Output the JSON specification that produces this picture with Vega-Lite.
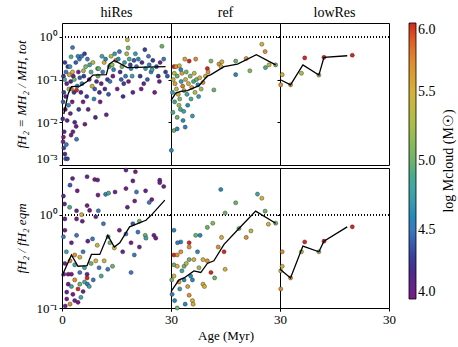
{
"$schema": "https://vega.github.io/schema/vega-lite/v6.json",
"padding": {"left": 14, "top": 5, "right": 5, "bottom": 5},
"spacing": 0,
"data": {"name": "pts"},
"resolve": {"scale": {"color": "shared"}, "legend": {"color": "shared"}},
"config": {
  "font": "Liberation Serif",
  "view": {"stroke": "black", "strokeWidth": 1},
  "title": {"font": "Liberation Serif", "fontSize": 14, "fontWeight": "normal", "color": "black", "offset": 3},
  "axis": {"labelFont": "Liberation Serif", "titleFont": "Liberation Serif", "labelFontSize": 13, "titleFontSize": 13, "titleFontWeight": "normal", "labelColor": "black", "titleColor": "black", "domain": false, "tickColor": "black", "grid": false, "tickSize": 3},
  "axisY": {"minExtent": 30, "maxExtent": 30},
  "legend": {"labelFont": "Liberation Serif", "titleFont": "Liberation Serif"},
  "circle": {"size": 17, "opacity": 1, "stroke": "#222", "strokeWidth": 0.4, "clip": true},
  "line": {"color": "black", "strokeWidth": 1.3, "clip": true},
  "rule": {"strokeDash": [1, 2], "color": "black", "strokeWidth": 1}
},
"datasets": {
"pts": [
{"p":"hiRes","q":"a","t":0.3,"v":0.0035,"m":4.1},{"p":"hiRes","q":"a","t":0.5,"v":0.0025,"m":4.3},{"p":"hiRes","q":"a","t":0.8,"v":0.0018,"m":4.2},{"p":"hiRes","q":"a","t":1.0,"v":0.0014,"m":4.4},{"p":"hiRes","q":"a","t":0.4,"v":0.0045,"m":4.0},{"p":"hiRes","q":"a","t":1.2,"v":0.003,"m":4.5},{"p":"hiRes","q":"a","t":0.6,"v":0.006,"m":4.1},{"p":"hiRes","q":"a","t":1.5,"v":0.0014,"m":4.3},{"p":"hiRes","q":"a","t":0.2,"v":0.012,"m":4.2},{"p":"hiRes","q":"a","t":0.9,"v":0.02,"m":4.0},{"p":"hiRes","q":"a","t":1.8,"v":0.025,"m":4.6},{"p":"hiRes","q":"a","t":0.5,"v":0.05,"m":4.3},{"p":"hiRes","q":"a","t":1.3,"v":0.08,"m":4.1},{"p":"hiRes","q":"a","t":0.4,"v":0.12,"m":4.2},{"p":"hiRes","q":"a","t":1.1,"v":0.15,"m":4.5},{"p":"hiRes","q":"a","t":1.6,"v":0.2,"m":4.3},{"p":"hiRes","q":"a","t":0.7,"v":0.1,"m":4.8},{"p":"hiRes","q":"a","t":1.9,"v":0.06,"m":5.2},{"p":"hiRes","q":"a","t":1.0,"v":0.04,"m":4.2},{"p":"hiRes","q":"a","t":0.3,"v":0.03,"m":4.4},{"p":"hiRes","q":"a","t":1.4,"v":0.011,"m":4.1},{"p":"hiRes","q":"a","t":2.0,"v":0.13,"m":5.6},{"p":"hiRes","q":"a","t":0.8,"v":0.25,"m":4.3},
{"p":"hiRes","q":"a","t":2.5,"v":0.005,"m":4.0},{"p":"hiRes","q":"a","t":3.0,"v":0.006,"m":4.1},{"p":"hiRes","q":"a","t":3.5,"v":0.01,"m":4.2},{"p":"hiRes","q":"a","t":4.0,"v":0.004,"m":4.5},{"p":"hiRes","q":"a","t":2.8,"v":0.03,"m":4.0},{"p":"hiRes","q":"a","t":3.3,"v":0.05,"m":4.3},{"p":"hiRes","q":"a","t":4.2,"v":0.07,"m":4.6},{"p":"hiRes","q":"a","t":2.4,"v":0.09,"m":4.2},{"p":"hiRes","q":"a","t":3.1,"v":0.12,"m":4.1},{"p":"hiRes","q":"a","t":4.5,"v":0.15,"m":4.0},{"p":"hiRes","q":"a","t":2.2,"v":0.2,"m":4.7},{"p":"hiRes","q":"a","t":3.8,"v":0.25,"m":4.4},{"p":"hiRes","q":"a","t":4.8,"v":0.3,"m":4.5},{"p":"hiRes","q":"a","t":2.6,"v":0.06,"m":5.8},{"p":"hiRes","q":"a","t":4.0,"v":0.056,"m":6.0},{"p":"hiRes","q":"a","t":4.6,"v":0.02,"m":4.3},{"p":"hiRes","q":"a","t":2.3,"v":0.016,"m":4.1},{"p":"hiRes","q":"a","t":3.9,"v":0.008,"m":4.0},{"p":"hiRes","q":"a","t":4.4,"v":0.35,"m":4.6},{"p":"hiRes","q":"a","t":2.9,"v":0.15,"m":5.5},{"p":"hiRes","q":"a","t":3.4,"v":0.1,"m":5.0},{"p":"hiRes","q":"a","t":4.9,"v":0.11,"m":4.4},{"p":"hiRes","q":"a","t":2.9,"v":0.56,"m":4.5},{"p":"hiRes","q":"a","t":2.5,"v":0.34,"m":4.9},
{"p":"hiRes","q":"a","t":5.2,"v":0.05,"m":4.2},{"p":"hiRes","q":"a","t":5.5,"v":0.08,"m":4.6},{"p":"hiRes","q":"a","t":6.0,"v":0.12,"m":4.3},{"p":"hiRes","q":"a","t":6.5,"v":0.2,"m":5.1},{"p":"hiRes","q":"a","t":7.0,"v":0.3,"m":4.5},{"p":"hiRes","q":"a","t":7.5,"v":0.1,"m":4.1},{"p":"hiRes","q":"a","t":8.0,"v":0.15,"m":4.9},{"p":"hiRes","q":"a","t":8.5,"v":0.25,"m":5.3},{"p":"hiRes","q":"a","t":9.0,"v":0.06,"m":4.4},{"p":"hiRes","q":"a","t":9.5,"v":0.09,"m":4.2},{"p":"hiRes","q":"a","t":5.8,"v":0.03,"m":4.0},{"p":"hiRes","q":"a","t":6.8,"v":0.04,"m":4.3},{"p":"hiRes","q":"a","t":7.2,"v":0.02,"m":4.1},{"p":"hiRes","q":"a","t":8.8,"v":0.035,"m":4.6},{"p":"hiRes","q":"a","t":9.8,"v":0.18,"m":4.7},{"p":"hiRes","q":"a","t":5.4,"v":0.35,"m":4.5},{"p":"hiRes","q":"a","t":6.2,"v":0.4,"m":4.3},{"p":"hiRes","q":"a","t":9.2,"v":0.013,"m":4.2},{"p":"hiRes","q":"a","t":6.3,"v":0.009,"m":4.0},{"p":"hiRes","q":"a","t":8.3,"v":0.07,"m":5.4},{"p":"hiRes","q":"a","t":9.9,"v":0.12,"m":5.0},{"p":"hiRes","q":"a","t":5.9,"v":0.16,"m":5.2},{"p":"hiRes","q":"a","t":7.6,"v":0.22,"m":4.8},
{"p":"hiRes","q":"a","t":10.3,"v":0.05,"m":4.2},{"p":"hiRes","q":"a","t":10.8,"v":0.08,"m":4.1},{"p":"hiRes","q":"a","t":11.2,"v":0.15,"m":4.5},{"p":"hiRes","q":"a","t":11.6,"v":0.25,"m":5.5},{"p":"hiRes","q":"a","t":12.0,"v":0.3,"m":4.6},{"p":"hiRes","q":"a","t":12.5,"v":0.1,"m":4.3},{"p":"hiRes","q":"a","t":13.0,"v":0.2,"m":4.9},{"p":"hiRes","q":"a","t":13.5,"v":0.35,"m":5.3},{"p":"hiRes","q":"a","t":14.0,"v":0.12,"m":4.0},{"p":"hiRes","q":"a","t":14.5,"v":0.4,"m":4.7},{"p":"hiRes","q":"a","t":10.5,"v":0.03,"m":4.0},{"p":"hiRes","q":"a","t":11.8,"v":0.06,"m":4.2},{"p":"hiRes","q":"a","t":12.8,"v":0.045,"m":4.4},{"p":"hiRes","q":"a","t":13.8,"v":0.22,"m":5.2},{"p":"hiRes","q":"a","t":14.8,"v":0.28,"m":5.8},{"p":"hiRes","q":"a","t":10.1,"v":0.18,"m":5.0},{"p":"hiRes","q":"a","t":11.0,"v":0.35,"m":4.8},{"p":"hiRes","q":"a","t":12.2,"v":0.015,"m":4.1},{"p":"hiRes","q":"a","t":13.2,"v":0.09,"m":4.5},{"p":"hiRes","q":"a","t":14.2,"v":0.17,"m":4.6},
{"p":"hiRes","q":"a","t":15.5,"v":0.3,"m":4.6},{"p":"hiRes","q":"a","t":16.0,"v":0.15,"m":4.2},{"p":"hiRes","q":"a","t":16.5,"v":0.2,"m":5.0},{"p":"hiRes","q":"a","t":17.0,"v":0.08,"m":4.3},{"p":"hiRes","q":"a","t":17.5,"v":0.12,"m":4.5},{"p":"hiRes","q":"a","t":18.0,"v":0.85,"m":5.4},{"p":"hiRes","q":"a","t":18.2,"v":0.55,"m":5.1},{"p":"hiRes","q":"a","t":18.5,"v":0.3,"m":4.9},{"p":"hiRes","q":"a","t":19.0,"v":0.18,"m":4.6},{"p":"hiRes","q":"a","t":19.5,"v":0.05,"m":4.1},{"p":"hiRes","q":"a","t":15.2,"v":0.06,"m":4.0},{"p":"hiRes","q":"a","t":16.3,"v":0.1,"m":4.4},{"p":"hiRes","q":"a","t":17.2,"v":0.25,"m":4.7},{"p":"hiRes","q":"a","t":17.8,"v":0.4,"m":5.2},{"p":"hiRes","q":"a","t":18.8,"v":0.22,"m":4.3},{"p":"hiRes","q":"a","t":19.3,"v":0.12,"m":4.8},{"p":"hiRes","q":"a","t":16.8,"v":0.04,"m":4.2},{"p":"hiRes","q":"a","t":15.8,"v":0.45,"m":4.5},{"p":"hiRes","q":"a","t":19.8,"v":0.28,"m":4.4},{"p":"hiRes","q":"a","t":18.3,"v":0.09,"m":4.0},
{"p":"hiRes","q":"a","t":20.5,"v":0.2,"m":4.5},{"p":"hiRes","q":"a","t":21.0,"v":0.3,"m":4.6},{"p":"hiRes","q":"a","t":21.5,"v":0.12,"m":4.3},{"p":"hiRes","q":"a","t":22.0,"v":0.25,"m":4.2},{"p":"hiRes","q":"a","t":22.5,"v":0.08,"m":4.1},{"p":"hiRes","q":"a","t":23.0,"v":0.18,"m":4.7},{"p":"hiRes","q":"a","t":23.5,"v":0.1,"m":4.4},{"p":"hiRes","q":"a","t":24.0,"v":0.22,"m":4.6},{"p":"hiRes","q":"a","t":24.5,"v":0.15,"m":4.5},{"p":"hiRes","q":"a","t":25.0,"v":0.28,"m":4.3},{"p":"hiRes","q":"a","t":25.5,"v":0.05,"m":4.0},{"p":"hiRes","q":"a","t":26.0,"v":0.2,"m":4.4},{"p":"hiRes","q":"a","t":26.5,"v":0.12,"m":4.2},{"p":"hiRes","q":"a","t":27.0,"v":0.25,"m":4.1},{"p":"hiRes","q":"a","t":27.5,"v":0.6,"m":5.0},{"p":"hiRes","q":"a","t":28.0,"v":0.3,"m":4.5},{"p":"hiRes","q":"a","t":28.5,"v":0.15,"m":4.3},{"p":"hiRes","q":"a","t":21.8,"v":0.06,"m":4.0},{"p":"hiRes","q":"a","t":23.8,"v":0.35,"m":4.5},{"p":"hiRes","q":"a","t":26.8,"v":0.09,"m":4.1},{"p":"hiRes","q":"a","t":20.2,"v":0.4,"m":4.7},{"p":"hiRes","q":"a","t":22.8,"v":0.5,"m":4.3},{"p":"hiRes","q":"a","t":24.8,"v":0.17,"m":4.8},{"p":"hiRes","q":"a","t":29.0,"v":0.12,"m":4.4},

{"p":"ref","q":"a","t":0.1,"v":0.0022,"m":4.6},{"p":"ref","q":"a","t":0.8,"v":0.2,"m":6.0},{"p":"ref","q":"a","t":1.4,"v":0.2,"m":5.7},{"p":"ref","q":"a","t":2.3,"v":0.21,"m":5.5},{"p":"ref","q":"a","t":2.7,"v":0.17,"m":4.6},{"p":"ref","q":"a","t":5.0,"v":0.27,"m":6.0},{"p":"ref","q":"a","t":6.8,"v":0.3,"m":5.7},{"p":"ref","q":"a","t":1.7,"v":0.12,"m":5.0},{"p":"ref","q":"a","t":0.8,"v":0.0064,"m":5.0},{"p":"ref","q":"a","t":1.7,"v":0.007,"m":4.6},{"p":"ref","q":"a","t":3.9,"v":0.0077,"m":4.5},{"p":"ref","q":"a","t":3.3,"v":0.011,"m":4.6},{"p":"ref","q":"a","t":5.9,"v":0.014,"m":4.7},{"p":"ref","q":"a","t":3.5,"v":0.018,"m":4.8},{"p":"ref","q":"a","t":1.7,"v":0.013,"m":5.0},{"p":"ref","q":"a","t":0.5,"v":0.017,"m":4.9},
{"p":"ref","q":"a","t":0.6,"v":0.1,"m":5.4},{"p":"ref","q":"a","t":1.1,"v":0.08,"m":5.6},{"p":"ref","q":"a","t":1.5,"v":0.06,"m":5.3},{"p":"ref","q":"a","t":2.0,"v":0.045,"m":5.5},{"p":"ref","q":"a","t":2.4,"v":0.035,"m":5.1},{"p":"ref","q":"a","t":2.8,"v":0.09,"m":4.7},{"p":"ref","q":"a","t":3.2,"v":0.07,"m":5.8},{"p":"ref","q":"a","t":3.6,"v":0.055,"m":5.2},{"p":"ref","q":"a","t":4.0,"v":0.1,"m":5.4},{"p":"ref","q":"a","t":4.4,"v":0.045,"m":4.8},{"p":"ref","q":"a","t":4.8,"v":0.08,"m":5.5},{"p":"ref","q":"a","t":5.3,"v":0.12,"m":5.1},{"p":"ref","q":"a","t":5.7,"v":0.065,"m":5.6},{"p":"ref","q":"a","t":6.2,"v":0.09,"m":4.9},{"p":"ref","q":"a","t":6.6,"v":0.05,"m":5.3},{"p":"ref","q":"a","t":7.0,"v":0.1,"m":5.0},{"p":"ref","q":"a","t":7.4,"v":0.075,"m":4.6},{"p":"ref","q":"a","t":7.9,"v":0.11,"m":5.5},{"p":"ref","q":"a","t":8.3,"v":0.06,"m":5.2},{"p":"ref","q":"a","t":8.8,"v":0.085,"m":5.7},{"p":"ref","q":"a","t":1.0,"v":0.03,"m":4.8},{"p":"ref","q":"a","t":2.2,"v":0.025,"m":5.2},{"p":"ref","q":"a","t":3.0,"v":0.14,"m":5.6},{"p":"ref","q":"a","t":4.2,"v":0.15,"m":5.0},{"p":"ref","q":"a","t":0.4,"v":0.05,"m":4.7},{"p":"ref","q":"a","t":5.5,"v":0.035,"m":4.9},{"p":"ref","q":"a","t":0.9,"v":0.14,"m":5.3},{"p":"ref","q":"a","t":6.4,"v":0.14,"m":5.4},{"p":"ref","q":"a","t":7.6,"v":0.04,"m":4.7},{"p":"ref","q":"a","t":2.6,"v":0.02,"m":4.9},{"p":"ref","q":"a","t":4.6,"v":0.025,"m":4.6},{"p":"ref","q":"a","t":3.8,"v":0.3,"m":5.6},
{"p":"ref","q":"a","t":10.0,"v":0.18,"m":6.0},{"p":"ref","q":"a","t":10.2,"v":0.15,"m":5.7},{"p":"ref","q":"a","t":11.8,"v":0.057,"m":5.0},{"p":"ref","q":"a","t":11.0,"v":0.27,"m":5.1},{"p":"ref","q":"a","t":13.2,"v":0.23,"m":5.7},{"p":"ref","q":"a","t":14.0,"v":0.26,"m":5.5},{"p":"ref","q":"a","t":13.8,"v":0.2,"m":5.5},{"p":"ref","q":"a","t":9.5,"v":0.12,"m":5.4},{"p":"ref","q":"a","t":17.8,"v":0.27,"m":5.0},{"p":"ref","q":"a","t":17.8,"v":0.13,"m":4.6},{"p":"ref","q":"a","t":20.7,"v":0.31,"m":5.7},{"p":"ref","q":"a","t":21.7,"v":0.16,"m":5.1},{"p":"ref","q":"a","t":25.0,"v":0.67,"m":5.5},{"p":"ref","q":"a","t":25.9,"v":0.45,"m":5.7},{"p":"ref","q":"a","t":26.0,"v":0.19,"m":4.9},{"p":"ref","q":"a","t":27.0,"v":0.22,"m":5.4},{"p":"ref","q":"a","t":28.8,"v":0.22,"m":5.0},

{"p":"lowRes","q":"a","t":0.2,"v":0.075,"m":5.7},{"p":"lowRes","q":"a","t":0.6,"v":0.13,"m":5.5},{"p":"lowRes","q":"a","t":2.9,"v":0.075,"m":5.7},{"p":"lowRes","q":"a","t":5.9,"v":0.14,"m":5.3},{"p":"lowRes","q":"a","t":6.8,"v":0.32,"m":6.0},{"p":"lowRes","q":"a","t":10.7,"v":0.127,"m":5.2},{"p":"lowRes","q":"a","t":12.1,"v":0.33,"m":6.0},{"p":"lowRes","q":"a","t":19.9,"v":0.37,"m":6.0},

{"p":"hiRes","q":"b","t":2.2,"v":2.07,"m":4.4},{"p":"hiRes","q":"b","t":2.9,"v":2.44,"m":4.1},{"p":"hiRes","q":"b","t":6.9,"v":2.55,"m":4.1},{"p":"hiRes","q":"b","t":9.0,"v":2.38,"m":4.0},{"p":"hiRes","q":"b","t":9.8,"v":2.35,"m":4.1},{"p":"hiRes","q":"b","t":4.2,"v":1.8,"m":4.0},{"p":"hiRes","q":"b","t":0.4,"v":1.58,"m":4.1},{"p":"hiRes","q":"b","t":9.9,"v":1.62,"m":4.0},{"p":"hiRes","q":"b","t":12.0,"v":1.65,"m":4.5},{"p":"hiRes","q":"b","t":12.8,"v":1.7,"m":4.9},{"p":"hiRes","q":"b","t":14.6,"v":1.75,"m":4.1},{"p":"hiRes","q":"b","t":17.6,"v":1.9,"m":4.0},{"p":"hiRes","q":"b","t":17.6,"v":3.0,"m":4.1},{"p":"hiRes","q":"b","t":20.2,"v":2.88,"m":4.0},{"p":"hiRes","q":"b","t":19.5,"v":2.3,"m":4.1},{"p":"hiRes","q":"b","t":20.5,"v":1.75,"m":4.5},{"p":"hiRes","q":"b","t":23.0,"v":1.8,"m":4.1},{"p":"hiRes","q":"b","t":24.7,"v":1.45,"m":4.0},{"p":"hiRes","q":"b","t":26.9,"v":2.34,"m":4.1},{"p":"hiRes","q":"b","t":26.9,"v":2.2,"m":4.0},{"p":"hiRes","q":"b","t":28.0,"v":2.0,"m":4.1},{"p":"hiRes","q":"b","t":24.0,"v":1.35,"m":4.5},{"p":"hiRes","q":"b","t":7.6,"v":1.11,"m":4.0},{"p":"hiRes","q":"b","t":0.7,"v":1.3,"m":4.1},{"p":"hiRes","q":"b","t":2.1,"v":1.2,"m":4.9},{"p":"hiRes","q":"b","t":4.0,"v":1.1,"m":4.1},{"p":"hiRes","q":"b","t":6.9,"v":1.25,"m":4.0},{"p":"hiRes","q":"b","t":10.0,"v":1.1,"m":4.5},{"p":"hiRes","q":"b","t":18.0,"v":1.2,"m":4.1},{"p":"hiRes","q":"b","t":20.0,"v":1.4,"m":4.0},
{"p":"hiRes","q":"b","t":0.8,"v":0.9,"m":4.1},{"p":"hiRes","q":"b","t":4.0,"v":0.9,"m":4.0},{"p":"hiRes","q":"b","t":5.6,"v":0.85,"m":4.1},{"p":"hiRes","q":"b","t":5.4,"v":1.0,"m":5.5},{"p":"hiRes","q":"b","t":9.3,"v":0.95,"m":4.1},{"p":"hiRes","q":"b","t":11.4,"v":0.8,"m":4.5},{"p":"hiRes","q":"b","t":15.8,"v":0.68,"m":4.0},{"p":"hiRes","q":"b","t":17.6,"v":0.62,"m":4.5},{"p":"hiRes","q":"b","t":19.5,"v":0.8,"m":4.4},{"p":"hiRes","q":"b","t":21.3,"v":0.85,"m":5.0},{"p":"hiRes","q":"b","t":20.9,"v":0.65,"m":4.5},{"p":"hiRes","q":"b","t":22.9,"v":0.6,"m":5.0},{"p":"hiRes","q":"b","t":23.1,"v":0.56,"m":4.8},{"p":"hiRes","q":"b","t":25.3,"v":0.6,"m":4.1},{"p":"hiRes","q":"b","t":25.8,"v":0.56,"m":4.0},{"p":"hiRes","q":"b","t":21.3,"v":0.45,"m":4.1},{"p":"hiRes","q":"b","t":19.9,"v":0.37,"m":4.5},{"p":"hiRes","q":"b","t":19.0,"v":0.5,"m":4.0},{"p":"hiRes","q":"b","t":16.7,"v":0.4,"m":4.1},{"p":"hiRes","q":"b","t":14.4,"v":0.44,"m":5.5},{"p":"hiRes","q":"b","t":13.2,"v":0.5,"m":5.0},{"p":"hiRes","q":"b","t":12.7,"v":0.58,"m":4.8},{"p":"hiRes","q":"b","t":9.7,"v":0.47,"m":5.5},{"p":"hiRes","q":"b","t":8.4,"v":0.55,"m":4.5},{"p":"hiRes","q":"b","t":7.1,"v":0.52,"m":4.1},{"p":"hiRes","q":"b","t":5.8,"v":0.4,"m":4.5},{"p":"hiRes","q":"b","t":4.0,"v":0.6,"m":4.5},{"p":"hiRes","q":"b","t":2.6,"v":0.5,"m":4.1},{"p":"hiRes","q":"b","t":0.8,"v":0.68,"m":4.0},{"p":"hiRes","q":"b","t":0.4,"v":0.58,"m":4.5},{"p":"hiRes","q":"b","t":1.2,"v":0.4,"m":4.8},
{"p":"hiRes","q":"b","t":0.8,"v":0.3,"m":4.1},{"p":"hiRes","q":"b","t":1.7,"v":0.23,"m":4.0},{"p":"hiRes","q":"b","t":2.2,"v":0.32,"m":5.7},{"p":"hiRes","q":"b","t":3.5,"v":0.37,"m":5.7},{"p":"hiRes","q":"b","t":4.9,"v":0.35,"m":5.5},{"p":"hiRes","q":"b","t":3.5,"v":0.29,"m":4.8},{"p":"hiRes","q":"b","t":4.9,"v":0.24,"m":4.5},{"p":"hiRes","q":"b","t":6.2,"v":0.27,"m":4.8},{"p":"hiRes","q":"b","t":6.9,"v":0.23,"m":4.1},{"p":"hiRes","q":"b","t":8.0,"v":0.3,"m":5.0},{"p":"hiRes","q":"b","t":9.3,"v":0.32,"m":5.5},{"p":"hiRes","q":"b","t":10.2,"v":0.27,"m":4.5},{"p":"hiRes","q":"b","t":11.6,"v":0.32,"m":5.4},{"p":"hiRes","q":"b","t":12.6,"v":0.26,"m":4.5},{"p":"hiRes","q":"b","t":13.9,"v":0.28,"m":5.0},{"p":"hiRes","q":"b","t":19.0,"v":0.24,"m":4.5},{"p":"hiRes","q":"b","t":1.7,"v":0.18,"m":4.0},{"p":"hiRes","q":"b","t":2.6,"v":0.17,"m":4.8},{"p":"hiRes","q":"b","t":3.5,"v":0.2,"m":5.7},{"p":"hiRes","q":"b","t":4.9,"v":0.18,"m":5.0},{"p":"hiRes","q":"b","t":6.2,"v":0.19,"m":4.8},{"p":"hiRes","q":"b","t":7.0,"v":0.18,"m":4.5},{"p":"hiRes","q":"b","t":1.3,"v":0.148,"m":4.1},{"p":"hiRes","q":"b","t":3.0,"v":0.14,"m":4.0},{"p":"hiRes","q":"b","t":4.4,"v":0.16,"m":6.0},{"p":"hiRes","q":"b","t":5.8,"v":0.15,"m":4.1},{"p":"hiRes","q":"b","t":7.5,"v":0.17,"m":4.8},{"p":"hiRes","q":"b","t":1.3,"v":0.125,"m":4.0},{"p":"hiRes","q":"b","t":2.2,"v":0.11,"m":5.7},{"p":"hiRes","q":"b","t":3.5,"v":0.12,"m":4.1},{"p":"hiRes","q":"b","t":4.4,"v":0.115,"m":4.0},{"p":"hiRes","q":"b","t":5.2,"v":0.13,"m":4.8},{"p":"hiRes","q":"b","t":0.9,"v":0.105,"m":4.1},{"p":"hiRes","q":"b","t":2.6,"v":0.23,"m":4.0},{"p":"hiRes","q":"b","t":6.9,"v":0.21,"m":6.0},{"p":"hiRes","q":"b","t":0.5,"v":0.23,"m":4.1},{"p":"hiRes","q":"b","t":8.6,"v":0.2,"m":4.5},{"p":"hiRes","q":"b","t":10.8,"v":0.22,"m":4.9},

{"p":"ref","q":"b","t":13.7,"v":1.86,"m":4.6},{"p":"ref","q":"b","t":23.8,"v":1.66,"m":4.8},{"p":"ref","q":"b","t":25.0,"v":1.5,"m":5.5},{"p":"ref","q":"b","t":17.8,"v":1.34,"m":5.0},{"p":"ref","q":"b","t":14.9,"v":1.04,"m":5.0},{"p":"ref","q":"b","t":25.9,"v":1.09,"m":5.0},{"p":"ref","q":"b","t":26.8,"v":0.79,"m":5.5},{"p":"ref","q":"b","t":28.8,"v":0.81,"m":5.0},{"p":"ref","q":"b","t":22.0,"v":0.67,"m":5.4},{"p":"ref","q":"b","t":18.7,"v":0.71,"m":5.0},{"p":"ref","q":"b","t":11.5,"v":0.81,"m":5.1},{"p":"ref","q":"b","t":10.0,"v":0.73,"m":5.0},{"p":"ref","q":"b","t":13.9,"v":0.57,"m":5.5},{"p":"ref","q":"b","t":20.7,"v":0.57,"m":5.7},{"p":"ref","q":"b","t":0.8,"v":0.68,"m":4.6},{"p":"ref","q":"b","t":2.7,"v":0.51,"m":4.6},{"p":"ref","q":"b","t":1.8,"v":0.5,"m":4.5},{"p":"ref","q":"b","t":5.0,"v":0.5,"m":6.0},{"p":"ref","q":"b","t":5.0,"v":0.45,"m":5.7},{"p":"ref","q":"b","t":6.8,"v":0.6,"m":5.0},{"p":"ref","q":"b","t":8.0,"v":0.6,"m":4.6},
{"p":"ref","q":"b","t":0.8,"v":0.37,"m":6.0},{"p":"ref","q":"b","t":1.7,"v":0.37,"m":5.7},{"p":"ref","q":"b","t":2.7,"v":0.4,"m":5.7},{"p":"ref","q":"b","t":0.8,"v":0.29,"m":5.0},{"p":"ref","q":"b","t":1.7,"v":0.28,"m":5.5},{"p":"ref","q":"b","t":3.6,"v":0.28,"m":5.0},{"p":"ref","q":"b","t":5.0,"v":0.33,"m":5.0},{"p":"ref","q":"b","t":6.3,"v":0.33,"m":5.5},{"p":"ref","q":"b","t":7.3,"v":0.4,"m":4.6},{"p":"ref","q":"b","t":8.8,"v":0.33,"m":5.5},{"p":"ref","q":"b","t":10.0,"v":0.32,"m":5.7},{"p":"ref","q":"b","t":11.0,"v":0.24,"m":6.0},{"p":"ref","q":"b","t":12.0,"v":0.21,"m":5.0},{"p":"ref","q":"b","t":14.9,"v":0.26,"m":5.5},{"p":"ref","q":"b","t":13.0,"v":0.45,"m":5.7},{"p":"ref","q":"b","t":14.6,"v":0.4,"m":6.0},{"p":"ref","q":"b","t":0.8,"v":0.22,"m":5.5},{"p":"ref","q":"b","t":2.2,"v":0.19,"m":5.7},{"p":"ref","q":"b","t":3.6,"v":0.2,"m":4.6},{"p":"ref","q":"b","t":5.9,"v":0.2,"m":4.6},{"p":"ref","q":"b","t":5.0,"v":0.137,"m":5.7},{"p":"ref","q":"b","t":5.9,"v":0.12,"m":5.5},{"p":"ref","q":"b","t":6.1,"v":0.11,"m":5.5},{"p":"ref","q":"b","t":3.9,"v":0.11,"m":4.6},{"p":"ref","q":"b","t":1.0,"v":0.12,"m":4.6},{"p":"ref","q":"b","t":0.3,"v":0.14,"m":4.5},{"p":"ref","q":"b","t":1.7,"v":0.1,"m":5.0},{"p":"ref","q":"b","t":8.8,"v":0.18,"m":5.5},{"p":"ref","q":"b","t":9.2,"v":0.17,"m":5.5},{"p":"ref","q":"b","t":5.4,"v":0.22,"m":4.6},{"p":"ref","q":"b","t":0.2,"v":0.2,"m":5.0},{"p":"ref","q":"b","t":3.0,"v":0.25,"m":4.8},{"p":"ref","q":"b","t":4.2,"v":0.3,"m":5.3},{"p":"ref","q":"b","t":7.7,"v":0.27,"m":5.2},{"p":"ref","q":"b","t":2.4,"v":0.16,"m":4.7},{"p":"ref","q":"b","t":4.6,"v":0.17,"m":5.6},

{"p":"lowRes","q":"b","t":0.2,"v":0.16,"m":5.7},{"p":"lowRes","q":"b","t":0.2,"v":0.25,"m":5.4},{"p":"lowRes","q":"b","t":0.6,"v":0.28,"m":5.5},{"p":"lowRes","q":"b","t":0.6,"v":0.4,"m":5.7},{"p":"lowRes","q":"b","t":2.9,"v":0.21,"m":5.7},{"p":"lowRes","q":"b","t":5.9,"v":0.4,"m":5.3},{"p":"lowRes","q":"b","t":6.8,"v":0.51,"m":6.0},{"p":"lowRes","q":"b","t":10.7,"v":0.4,"m":5.2},{"p":"lowRes","q":"b","t":12.1,"v":0.52,"m":6.0},{"p":"lowRes","q":"b","t":19.9,"v":0.74,"m":6.0},

{"k":"m","p":"hiRes","q":"a","t":0.5,"v":0.0156},{"k":"m","p":"hiRes","q":"a","t":1.7,"v":0.046},{"k":"m","p":"hiRes","q":"a","t":2.6,"v":0.068},{"k":"m","p":"hiRes","q":"a","t":4.9,"v":0.07},{"k":"m","p":"hiRes","q":"a","t":6.9,"v":0.09},{"k":"m","p":"hiRes","q":"a","t":8.5,"v":0.127},{"k":"m","p":"hiRes","q":"a","t":12.2,"v":0.13},{"k":"m","p":"hiRes","q":"a","t":13.0,"v":0.23},{"k":"m","p":"hiRes","q":"a","t":14.4,"v":0.28},{"k":"m","p":"hiRes","q":"a","t":18.0,"v":0.19},{"k":"m","p":"hiRes","q":"a","t":28.5,"v":0.2},
{"k":"m","p":"ref","q":"a","t":0.0,"v":0.032},{"k":"m","p":"ref","q":"a","t":1.3,"v":0.048},{"k":"m","p":"ref","q":"a","t":2.7,"v":0.053},{"k":"m","p":"ref","q":"a","t":4.5,"v":0.055},{"k":"m","p":"ref","q":"a","t":7.7,"v":0.072},{"k":"m","p":"ref","q":"a","t":10.0,"v":0.12},{"k":"m","p":"ref","q":"a","t":11.0,"v":0.13},{"k":"m","p":"ref","q":"a","t":14.6,"v":0.2},{"k":"m","p":"ref","q":"a","t":18.3,"v":0.23},{"k":"m","p":"ref","q":"a","t":23.5,"v":0.38},{"k":"m","p":"ref","q":"a","t":28.8,"v":0.22},
{"k":"m","p":"lowRes","q":"a","t":0.0,"v":0.1},{"k":"m","p":"lowRes","q":"a","t":2.9,"v":0.075},{"k":"m","p":"lowRes","q":"a","t":6.3,"v":0.22},{"k":"m","p":"lowRes","q":"a","t":10.7,"v":0.127},{"k":"m","p":"lowRes","q":"a","t":12.1,"v":0.33},{"k":"m","p":"lowRes","q":"a","t":18.5,"v":0.36},
{"k":"m","p":"hiRes","q":"b","t":0.0,"v":0.22},{"k":"m","p":"hiRes","q":"b","t":2.6,"v":0.37},{"k":"m","p":"hiRes","q":"b","t":4.4,"v":0.28},{"k":"m","p":"hiRes","q":"b","t":6.9,"v":0.285},{"k":"m","p":"hiRes","q":"b","t":8.1,"v":0.375},{"k":"m","p":"hiRes","q":"b","t":10.4,"v":0.375},{"k":"m","p":"hiRes","q":"b","t":12.6,"v":0.6},{"k":"m","p":"hiRes","q":"b","t":14.4,"v":0.45},{"k":"m","p":"hiRes","q":"b","t":15.9,"v":0.5},{"k":"m","p":"hiRes","q":"b","t":18.6,"v":0.74},{"k":"m","p":"hiRes","q":"b","t":23.1,"v":0.87},{"k":"m","p":"hiRes","q":"b","t":24.9,"v":1.02},{"k":"m","p":"hiRes","q":"b","t":28.3,"v":1.43},
{"k":"m","p":"ref","q":"b","t":0.0,"v":0.15},{"k":"m","p":"ref","q":"b","t":2.2,"v":0.2},{"k":"m","p":"ref","q":"b","t":3.6,"v":0.21},{"k":"m","p":"ref","q":"b","t":6.3,"v":0.25},{"k":"m","p":"ref","q":"b","t":8.2,"v":0.24},{"k":"m","p":"ref","q":"b","t":10.0,"v":0.3},{"k":"m","p":"ref","q":"b","t":11.8,"v":0.32},{"k":"m","p":"ref","q":"b","t":14.6,"v":0.48},{"k":"m","p":"ref","q":"b","t":18.7,"v":0.71},{"k":"m","p":"ref","q":"b","t":23.3,"v":1.09},{"k":"m","p":"ref","q":"b","t":28.8,"v":0.81},
{"k":"m","p":"lowRes","q":"b","t":0.0,"v":0.26},{"k":"m","p":"lowRes","q":"b","t":2.9,"v":0.21},{"k":"m","p":"lowRes","q":"b","t":6.3,"v":0.46},{"k":"m","p":"lowRes","q":"b","t":10.7,"v":0.4},{"k":"m","p":"lowRes","q":"b","t":12.1,"v":0.52},{"k":"m","p":"lowRes","q":"b","t":18.5,"v":0.74}
]
},
"vconcat": [
{
  "hconcat": [
    {"width": 109, "height": 142, "title": "hiRes", "transform": [{"filter": "datum.p == 'hiRes' && datum.q == 'a'"}],
     "layer": [
      {"mark": "rule", "encoding": {"y": {"datum": 1, "type": "quantitative"}}},
      {"transform": [{"filter": "datum.k != 'm'"}], "mark": "circle",
       "encoding": {
         "x": {"field": "t", "type": "quantitative", "scale": {"domain": [0, 30]}, "axis": null},
         "y": {"field": "v", "type": "quantitative", "scale": {"type": "log", "domain": [0.001, 2.1], "nice": false}, "axis": {"values": [0.001, 0.01, 0.1, 1], "title": "fH₂ = MH₂ / MH, tot", "titleFontStyle": "italic", "labelFlush": true, "labelExpr": "{'0':'10⁰','-1':'10⁻¹','-2':'10⁻²','-3':'10⁻³'}['' + round(log(datum.value)/LN10)]", "titlePadding": 4}},
         "color": {"field": "m", "type": "quantitative", "scale": {"domain": [4, 6], "range": ["#7a1a86", "#3c2d8f", "#3b78c1", "#4aa0ac", "#6db36b", "#a9bf4a", "#d4b23a", "#e3852f", "#d7261e"]},
           "legend": {"title": "log Mcloud (M☉)", "orient": "right", "direction": "vertical", "gradientLength": 276, "gradientThickness": 7, "values": [4, 4.5, 5, 5.5, 6], "format": ".1f", "labelFontSize": 14, "titleFontSize": 14, "titleFontWeight": "normal", "titleOrient": "right", "titleAnchor": "middle", "labelColor": "black", "titleColor": "black", "gradientStrokeColor": "black", "gradientStrokeWidth": 0.8, "offset": 13, "titlePadding": 6,
             "encode": {"title": {"update": {"angle": {"value": -90}, "baseline": {"value": "top"}, "align": {"value": "center"}}}}}}
       }},
      {"transform": [{"filter": "datum.k == 'm'"}], "mark": "line", "encoding": {"x": {"field": "t", "type": "quantitative"}, "y": {"field": "v", "type": "quantitative"}}}
     ]},
    {"width": 109, "height": 142, "title": "ref", "transform": [{"filter": "datum.p == 'ref' && datum.q == 'a'"}],
     "layer": [
      {"mark": "rule", "encoding": {"y": {"datum": 1, "type": "quantitative"}}},
      {"transform": [{"filter": "datum.k != 'm'"}], "mark": "circle",
       "encoding": {
         "x": {"field": "t", "type": "quantitative", "scale": {"domain": [0, 30]}, "axis": null},
         "y": {"field": "v", "type": "quantitative", "scale": {"type": "log", "domain": [0.001, 2.1], "nice": false}, "axis": {"values": [0.001, 0.01, 0.1, 1], "labels": false, "title": null, "minExtent": 0, "maxExtent": 0}},
         "color": {"field": "m", "type": "quantitative"}
       }},
      {"transform": [{"filter": "datum.k == 'm'"}], "mark": "line", "encoding": {"x": {"field": "t", "type": "quantitative"}, "y": {"field": "v", "type": "quantitative"}}}
     ]},
    {"width": 109, "height": 142, "title": "lowRes", "transform": [{"filter": "datum.p == 'lowRes' && datum.q == 'a'"}],
     "layer": [
      {"mark": "rule", "encoding": {"y": {"datum": 1, "type": "quantitative"}}},
      {"transform": [{"filter": "datum.k != 'm'"}], "mark": "circle",
       "encoding": {
         "x": {"field": "t", "type": "quantitative", "scale": {"domain": [0, 30]}, "axis": null},
         "y": {"field": "v", "type": "quantitative", "scale": {"type": "log", "domain": [0.001, 2.1], "nice": false}, "axis": {"values": [0.001, 0.01, 0.1, 1], "labels": false, "title": null, "minExtent": 0, "maxExtent": 0}},
         "color": {"field": "m", "type": "quantitative"}
       }},
      {"transform": [{"filter": "datum.k == 'm'"}], "mark": "line", "encoding": {"x": {"field": "t", "type": "quantitative"}, "y": {"field": "v", "type": "quantitative"}}}
     ]}
  ],
  "spacing": 0, "bounds": "flush",
  "resolve": {"scale": {"color": "shared"}, "legend": {"color": "shared"}}
},
{
  "hconcat": [
    {"width": 109, "height": 140, "transform": [{"filter": "datum.p == 'hiRes' && datum.q == 'b'"}],
     "layer": [
      {"mark": "rule", "encoding": {"y": {"datum": 1, "type": "quantitative"}}},
      {"transform": [{"filter": "datum.k != 'm'"}], "mark": "circle",
       "encoding": {
         "x": {"field": "t", "type": "quantitative", "scale": {"domain": [0, 30]}, "axis": {"values": [0, 10, 20, 30], "title": null, "labelFlush": false}},
         "y": {"field": "v", "type": "quantitative", "scale": {"type": "log", "domain": [0.1, 3.16], "nice": false}, "axis": {"values": [0.1, 1], "title": "fH₂ / fH₂ eqm", "titleFontStyle": "italic", "labelExpr": "{'0':'10⁰','-1':'10⁻¹','-2':'10⁻²','-3':'10⁻³'}['' + round(log(datum.value)/LN10)]", "titlePadding": 4}},
         "color": {"field": "m", "type": "quantitative"}
       }},
      {"transform": [{"filter": "datum.k == 'm'"}], "mark": "line", "encoding": {"x": {"field": "t", "type": "quantitative"}, "y": {"field": "v", "type": "quantitative"}}}
     ]},
    {"width": 109, "height": 140, "transform": [{"filter": "datum.p == 'ref' && datum.q == 'b'"}],
     "layer": [
      {"mark": "rule", "encoding": {"y": {"datum": 1, "type": "quantitative"}}},
      {"transform": [{"filter": "datum.k != 'm'"}], "mark": "circle",
       "encoding": {
         "x": {"field": "t", "type": "quantitative", "scale": {"domain": [0, 30]}, "axis": {"values": [0, 10, 20, 30], "title": "Age (Myr)", "labelFlush": false, "labelExpr": "datum.value == 0 ? '' : datum.label", "titlePadding": 3}},
         "y": {"field": "v", "type": "quantitative", "scale": {"type": "log", "domain": [0.1, 3.16], "nice": false}, "axis": {"values": [0.1, 1], "labels": false, "title": null, "minExtent": 0, "maxExtent": 0}},
         "color": {"field": "m", "type": "quantitative"}
       }},
      {"transform": [{"filter": "datum.k == 'm'"}], "mark": "line", "encoding": {"x": {"field": "t", "type": "quantitative"}, "y": {"field": "v", "type": "quantitative"}}}
     ]},
    {"width": 109, "height": 140, "transform": [{"filter": "datum.p == 'lowRes' && datum.q == 'b'"}],
     "layer": [
      {"mark": "rule", "encoding": {"y": {"datum": 1, "type": "quantitative"}}},
      {"transform": [{"filter": "datum.k != 'm'"}], "mark": "circle",
       "encoding": {
         "x": {"field": "t", "type": "quantitative", "scale": {"domain": [0, 30]}, "axis": {"values": [0, 10, 20, 30], "title": null, "labelFlush": false, "labelExpr": "datum.value == 0 ? '' : datum.label"}},
         "y": {"field": "v", "type": "quantitative", "scale": {"type": "log", "domain": [0.1, 3.16], "nice": false}, "axis": {"values": [0.1, 1], "labels": false, "title": null, "minExtent": 0, "maxExtent": 0}},
         "color": {"field": "m", "type": "quantitative"}
       }},
      {"transform": [{"filter": "datum.k == 'm'"}], "mark": "line", "encoding": {"x": {"field": "t", "type": "quantitative"}, "y": {"field": "v", "type": "quantitative"}}}
     ]}
  ],
  "spacing": 0, "bounds": "flush",
  "resolve": {"scale": {"color": "shared"}, "legend": {"color": "shared"}}
}
]
}
